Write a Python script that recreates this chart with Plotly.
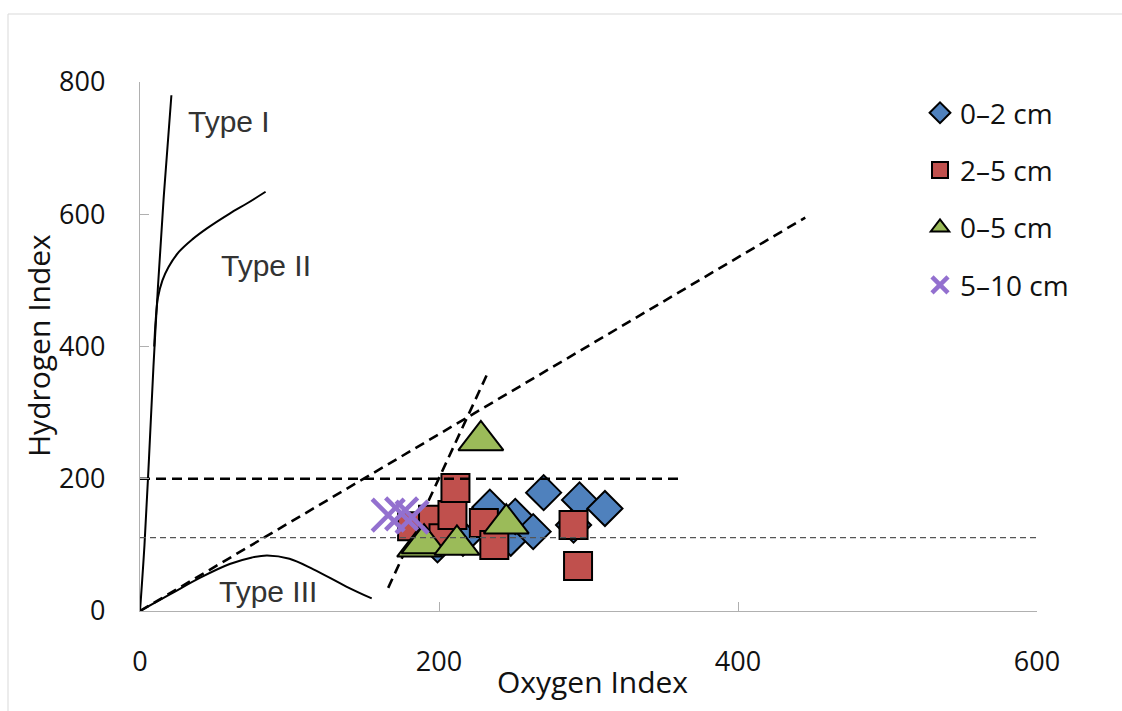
import plotly.graph_objects as go

# --- Sample measurements (Oxygen Index vs Hydrogen Index) ---
oi_0_2 = [199, 216, 234, 248, 251, 263, 270, 290, 294, 311]
hi_0_2 = [100, 110, 157, 110, 143, 120, 179, 130, 168, 155]

oi_2_5 = [182, 196, 203, 209, 211, 230, 237, 290, 293]
hi_2_5 = [128, 138, 110, 145, 186, 133, 100, 130, 68]

oi_0_5 = [187, 190, 212, 228, 245]
hi_0_5 = [97, 102, 100, 258, 132]

oi_5_10 = [166, 175, 182]
hi_5_10 = [145, 147, 142]

# --- Kerogen type reference curves ---
type1_oi = [0, 3, 6, 9, 12, 16, 21]
type1_hi = [0, 100, 230, 370, 490, 630, 780]

type2_oi = [9.5, 10.5, 12, 15, 19, 26, 35, 45, 60, 72, 84]
type2_hi = [400, 440, 474, 500, 520, 543, 562, 579, 601, 617, 634]

type3_oi = [0, 20, 40, 60, 75, 85, 100, 116, 138, 155]
type3_hi = [0, 25, 50, 71, 81, 84, 79, 63, 37, 19]

# --- Dashed boundary lines ---
diag_oi = [0, 445]
diag_hi = [0, 595]
steep_oi = [166, 232]
steep_hi = [35, 357]
hi200_oi = [0, 360]
hi200_hi = [200, 200]
hi111_oi = [0, 600]
hi111_hi = [111, 111]

# --- Curve labels ---
label_text = ["Type I", "Type II", "Type III"]
label_oi = [59.5, 84, 85.6]
label_hi = [740, 522, 29]

BLUE = "#4f81bd"
RED = "#c0504d"
GREEN = "#9bbb59"
PURPLE = "#9370cf"
FONT = "Open Sans"

fig = go.Figure()

def line(x, y, width=2, dash="solid", color="black", shape="linear"):
    fig.add_trace(go.Scatter(x=x, y=y, mode="lines", showlegend=False,
                             hoverinfo="skip",
                             line=dict(color=color, width=width, dash=dash,
                                       shape=shape, smoothing=1.0)))

# curves and sloped boundaries below the markers
line(type1_oi, type1_hi, shape="spline")
line(type2_oi, type2_hi, shape="spline")
line(type3_oi, type3_hi, shape="spline")
line(diag_oi, diag_hi, width=2.6, dash="10px,6px")
line(steep_oi, steep_hi, width=2.6, dash="10px,6px")

mk_line = dict(color="black", width=2)
fig.add_trace(go.Scatter(x=oi_0_2, y=hi_0_2, mode="markers", name="0–2 cm",
                         legendgroup="a",
                         marker=dict(symbol="diamond", size=27, color=BLUE, line=mk_line)))
fig.add_trace(go.Scatter(x=oi_2_5, y=hi_2_5, mode="markers", name="2–5 cm",
                         legendgroup="b",
                         marker=dict(symbol="square", size=28, color=RED, line=mk_line)))
fig.add_trace(go.Scatter(x=oi_0_5, y=hi_0_5, mode="markers", name="0–5 cm",
                         legendgroup="c",
                         marker=dict(symbol="triangle-up", size=39, color=GREEN, line=mk_line)))
fig.add_trace(go.Scatter(x=oi_5_10, y=hi_5_10, mode="markers", name="5–10 cm",
                         legendgroup="d",
                         marker=dict(symbol="x-thin", size=32, color=PURPLE,
                                     line=dict(color=PURPLE, width=4.5))))

# horizontal thresholds drawn over the markers
line(hi200_oi, hi200_hi, width=2.6, dash="10px,6px")
line(hi111_oi, hi111_hi, width=1.2, dash="6px,4px", color="#555555")

for t, x, y in zip(label_text, label_oi, label_hi):
    fig.add_annotation(x=x, y=y, text=t, showarrow=False,
                       font=dict(family="Liberation Sans", size=30, color="#333333"))

# axis titles
fig.add_annotation(xref="paper", yref="paper", x=(592 - 140) / 897, y=(611 - 681) / 529,
                   xanchor="center", yanchor="middle",
                   text="Oxygen Index", showarrow=False,
                   font=dict(family=FONT, size=30, color="#111111"))
fig.add_annotation(xref="paper", yref="paper", x=(38 - 140) / 897, y=(611 - 346) / 529,
                   xanchor="center", yanchor="middle",
                   text="Hydrogen Index", showarrow=False, textangle=-90,
                   font=dict(family=FONT, size=30, color="#111111"))

# chart-area border
fig.add_shape(type="rect", xref="paper", yref="paper",
              x0=(8 - 140) / 897, x1=(1130 - 140) / 897,
              y0=(611 - 720) / 529, y1=(611 - 14) / 529,
              line=dict(color="#d9d9d9", width=1), fillcolor="rgba(0,0,0,0)", layer="below")

axis_common = dict(showgrid=False, zeroline=False, showline=True,
                   linecolor="#b0b0b0", linewidth=1.3,
                   ticks="inside", tickcolor="#b0b0b0", ticklen=9, tickwidth=1.3,
                   tickfont=dict(family=FONT, size=27, color="#111111"))

fig.update_layout(
    width=1122, height=711,
    margin=dict(l=140, r=85, t=82, b=100),
    paper_bgcolor="white", plot_bgcolor="white",
    xaxis=dict(range=[0, 600], tickvals=[0, 200, 400, 600], ticklabelstandoff=26,
               **axis_common),
    yaxis=dict(range=[0, 800], tickvals=[0, 200, 400, 600, 800], ticklabelstandoff=28,
               **axis_common),
    legend=dict(x=(920 - 140) / 897, y=(611 - 88) / 529, xanchor="left", yanchor="top",
                traceorder="grouped", tracegroupgap=18, bgcolor="rgba(0,0,0,0)",
                font=dict(family=FONT, size=28, color="#111111")),
    showlegend=True,
)

fig.write_html("out.html")
